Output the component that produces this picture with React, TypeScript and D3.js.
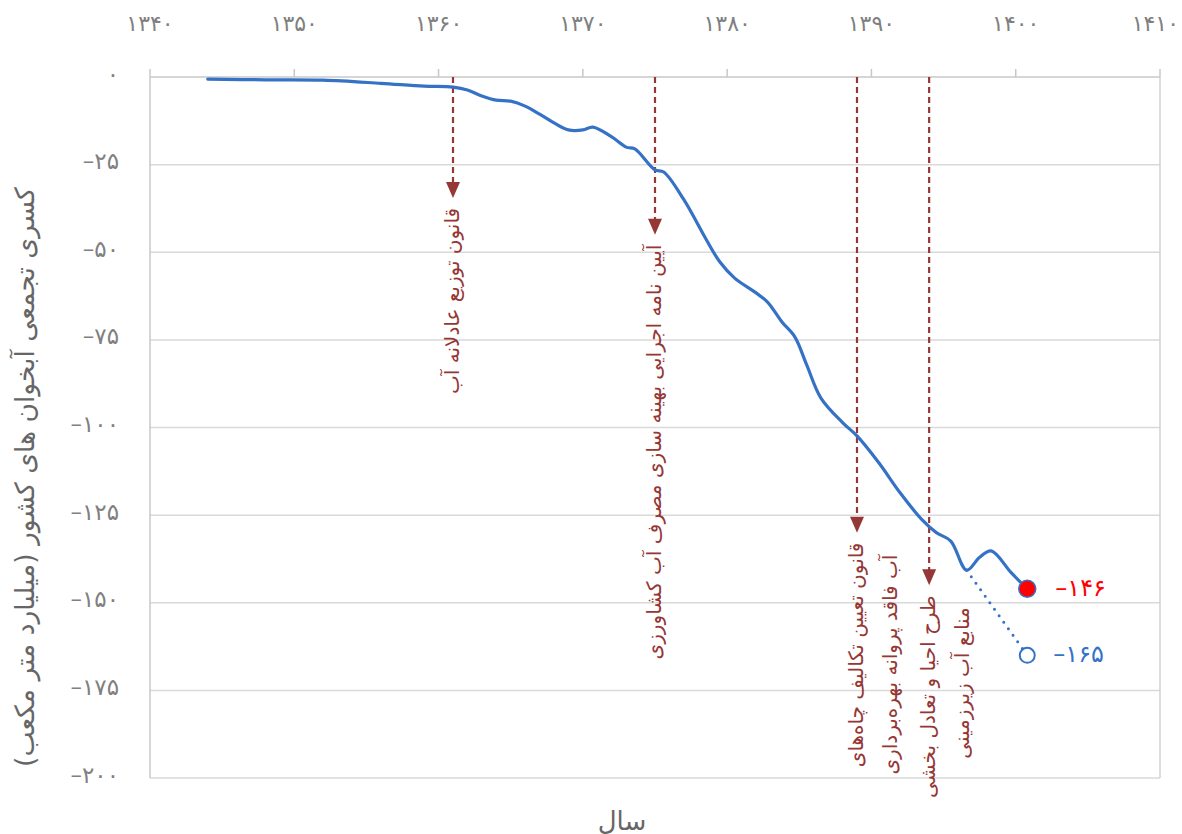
import { useEffect, useRef } from 'react';
import * as d3 from 'd3';

// cumulative aquifer deficit (billion m3)
const years = [1344, 1348, 1352, 1356, 1359, 1361, 1362, 1363, 1364, 1365, 1366, 1367, 1368, 1369, 1370, 1370.7,
  1372, 1373, 1373.6, 1375, 1375.6, 1377, 1378.5, 1379.5, 1380.5, 1382, 1382.8, 1383.8, 1384.7, 1385.5, 1386.5,
  1388, 1389, 1390.5, 1392, 1393.5, 1394.5, 1395.5, 1396.6, 1397.5, 1398.3, 1399.7, 1400.8];
const deficit = [-0.6, -0.8, -0.9, -1.8, -2.6, -2.9, -3.7, -5.4, -6.6, -6.9, -8.3, -10.6, -13.1, -15.1, -15.1, -14.3,
  -17.1, -20, -20.5, -26.5, -27.1, -35, -46, -52.8, -57.3, -61.6, -64.2, -69.9, -74.2, -82, -91.6,
  -98.6, -102.4, -110, -118.7, -126.3, -130, -132.4, -140.7, -137, -135.2, -141.5, -146];

// projection without the measures
const projYears = [1396.6, 1400.8];
const projValues = [-140.7, -165];

const xTicks = [1340, 1350, 1360, 1370, 1380, 1390, 1400, 1410];
const yTicks = [0, -25, -50, -75, -100, -125, -150, -175, -200];

const events = [
  { year: 1361, tip: -34.5, lines: ['قانون توزیع عادلانه آب'] },
  { year: 1375, tip: -45, lines: ['آیین نامه اجرایی بهینه سازی مصرف آب کشاورزی'] },
  { year: 1389, tip: -130, lines: ['قانون تعیین تکالیف چاه‌های', 'آب فاقد پروانه بهره‌برداری'] },
  { year: 1394, tip: -145, lines: ['طرح احیا و تعادل بخشی', 'منابع آب زیرزمینی'] },
];

const toFa = (v: number) => {
  const s = String(Math.abs(v)).replace(/\d/g, d => '۰۱۲۳۴۵۶۷۸۹'[+d]);
  return v < 0 ? '–' + s : s;
};

const W = 1182;
const H = 834;
const FONT = '"DejaVu Sans", "Noto Sans", sans-serif';

export default function App() {
  const svgRef = useRef<SVGSVGElement>(null);

  useEffect(() => {
    if (!svgRef.current) return;
    const svg = d3.select(svgRef.current);
    svg.selectAll('*').remove();

    const x = d3.scaleLinear().domain([1340, 1410]).range([150, 1160]);
    const y = d3.scaleLinear().domain([0, -200]).range([77, 778]);

    // grid
    yTicks.forEach(t => {
      svg.append('line')
        .attr('x1', 150).attr('x2', 1160)
        .attr('y1', y(t)).attr('y2', y(t))
        .attr('stroke', t === 0 ? '#c8c8c8' : '#d9d9d9')
        .attr('stroke-width', 1.5);
    });
    svg.append('line').attr('x1', 150).attr('x2', 150).attr('y1', 77).attr('y2', 778)
      .attr('stroke', '#c8c8c8').attr('stroke-width', 1.5);
    svg.append('line').attr('x1', 1160).attr('x2', 1160).attr('y1', 77).attr('y2', 778)
      .attr('stroke', '#d0d0d0').attr('stroke-width', 1.5);

    // top axis
    xTicks.forEach(t => {
      svg.append('line')
        .attr('x1', x(t)).attr('x2', x(t))
        .attr('y1', 69).attr('y2', 77)
        .attr('stroke', '#c8c8c8').attr('stroke-width', 1.5);
      const lbl = svg.append('text')
        .attr('x', x(t)).attr('y', 25)
        .attr('text-anchor', 'middle').attr('dominant-baseline', 'middle')
        .attr('fill', '#808080').attr('font-size', '22px').attr('font-family', FONT)
        .text(toFa(t));
      // keep the edge label inside the picture
      const half = ((lbl.node() as SVGTextElement).getComputedTextLength() || 0) / 2;
      if (x(t) + half > W - 3) lbl.attr('x', W - 3 - half);
    });

    yTicks.forEach(t => {
      svg.append('text')
        .attr('x', 119).attr('y', y(t) - 2)
        .attr('text-anchor', 'end').attr('dominant-baseline', 'middle')
        .attr('fill', '#808080').attr('font-size', '23px').attr('font-family', FONT)
        .text(toFa(t));
    });

    // axis titles
    svg.append('text')
      .attr('transform', `translate(26, 477) rotate(-90)`)
      .attr('direction', 'rtl')
      .attr('text-anchor', 'middle').attr('dominant-baseline', 'middle')
      .attr('fill', '#666').attr('font-size', '26.5px').attr('font-family', FONT)
      .text('کسری تجمعی آبخوان های کشور (میلیارد متر مکعب)');
    svg.append('text')
      .attr('x', 622).attr('y', 822)
      .attr('text-anchor', 'middle').attr('dominant-baseline', 'middle')
      .attr('fill', '#666').attr('font-size', '26px').attr('font-family', FONT)
      .text('سال');

    // event annotations
    const red = '#953735';
    events.forEach(ev => {
      const ex = x(ev.year);
      const tipY = y(ev.tip);
      svg.append('line')
        .attr('x1', ex).attr('x2', ex).attr('y1', 77).attr('y2', tipY - 14)
        .attr('stroke', red).attr('stroke-width', 2.2).attr('stroke-dasharray', '6 4');
      svg.append('path')
        .attr('d', `M${ex - 7},${tipY - 16}L${ex + 7},${tipY - 16}L${ex},${tipY}Z`)
        .attr('fill', red);
      ev.lines.forEach((ln, i) => {
        svg.append('text')
          .attr('transform', `translate(${ex + i * 34}, ${tipY + 10 + i * 12}) rotate(-90)`)
          .attr('direction', 'rtl')
          .attr('text-anchor', 'start').attr('dominant-baseline', 'middle')
          .attr('fill', red).attr('font-size', '20px').attr('font-family', FONT)
          .text(ln);
      });
    });

    const blue = '#3572c6';
    const line = d3.line<[number, number]>()
      .x(d => x(d[0])).y(d => y(d[1]))
      .curve(d3.curveCatmullRom.alpha(0.5));

    svg.append('path')
      .attr('d', line(projYears.map((yr, i) => [yr, projValues[i]]) as [number, number][]) || '')
      .attr('fill', 'none').attr('stroke', blue).attr('stroke-width', 3)
      .attr('stroke-linecap', 'round').attr('stroke-dasharray', '0 8');

    svg.append('path')
      .attr('d', line(years.map((yr, i) => [yr, deficit[i]]) as [number, number][]) || '')
      .attr('fill', 'none').attr('stroke', blue).attr('stroke-width', 3.2)
      .attr('stroke-linecap', 'round');

    const lastYear = years[years.length - 1];
    const lastVal = deficit[deficit.length - 1];
    svg.append('circle')
      .attr('cx', x(lastYear)).attr('cy', y(lastVal)).attr('r', 8.5)
      .attr('fill', '#ff0000').attr('stroke', blue).attr('stroke-width', 1.5);
    svg.append('text')
      .attr('x', x(lastYear) + 28).attr('y', y(lastVal))
      .attr('dominant-baseline', 'middle')
      .attr('fill', '#ff0000').attr('font-size', '24px').attr('font-family', FONT)
      .text(toFa(Math.round(lastVal)));

    const pY = projYears[projYears.length - 1];
    const pV = projValues[projValues.length - 1];
    svg.append('circle')
      .attr('cx', x(pY)).attr('cy', y(pV)).attr('r', 7.5)
      .attr('fill', '#fff').attr('stroke', blue).attr('stroke-width', 2);
    svg.append('text')
      .attr('x', x(pY) + 26).attr('y', y(pV))
      .attr('dominant-baseline', 'middle')
      .attr('fill', blue).attr('font-size', '24px').attr('font-family', FONT)
      .text(toFa(pV));
  }, []);

  return (
    <svg
      ref={svgRef}
      width={W}
      height={H}
      viewBox={`0 0 ${W} ${H}`}
      style={{ position: 'absolute', left: 0, top: 0, background: '#fff' }}
    />
  );
}
